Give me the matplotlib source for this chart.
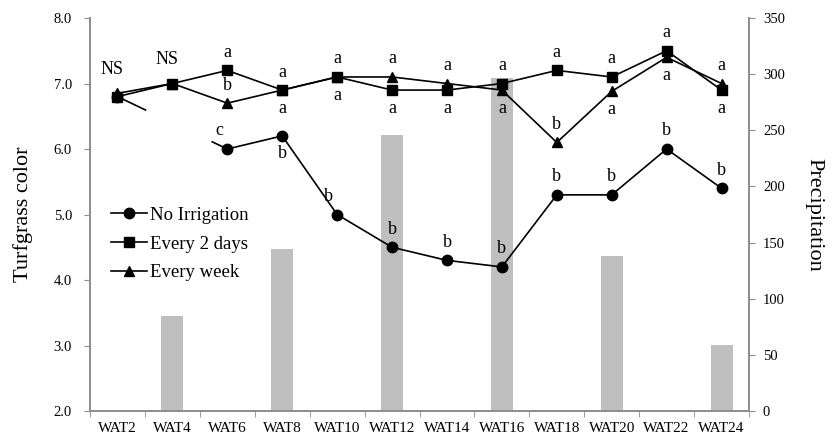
import numpy as np
import matplotlib
matplotlib.use("Agg")
import matplotlib.pyplot as plt
from matplotlib.ticker import FixedLocator

plt.rcParams["font.family"] = ["Liberation Serif", "DejaVu Serif"]
plt.rcParams["lines.scale_dashes"] = False

weeks = ["WAT2", "WAT4", "WAT6", "WAT8", "WAT10", "WAT12",
         "WAT14", "WAT16", "WAT18", "WAT20", "WAT22", "WAT24"]

precipitation = [0, 85, 0, 144, 0, 246, 0, 297, 0, 138, 0, 59]

no_irrigation = [6.8, np.nan, 6.0, 6.2, 5.0, 4.5, 4.3, 4.2, 5.3, 5.3, 6.0, 5.4]
every_2_days = [6.8, 7.0, 7.2, 6.9, 7.1, 6.9, 6.9, 7.0, 7.2, 7.1, 7.5, 6.9]
every_week = [6.85, 7.0, 6.7, 6.9, 7.1, 7.1, 7.0, 6.9, 6.1, 6.88, 7.4, 7.0]

# significance letters and whether they sit above (+1) or below (-1) the point
no_irr_letters = ["", "", "c", "b", "b", "b", "b", "b", "b", "b", "b", "b"]
no_irr_side = [0, 0, 1, -1, 1, 1, 1, 1, 1, 1, 1, 1]
two_day_letters = ["", "", "a", "a", "a", "a", "a", "a", "a", "a", "a", "a"]
two_day_side = [0, 0, 1, 1, 1, -1, -1, 1, 1, 1, 1, -1]
week_letters = ["", "", "b", "a", "a", "a", "a", "a", "b", "a", "a", "a"]
week_side = [0, 0, 1, -1, -1, 1, 1, -1, 1, -1, -1, 1]
ns_weeks = ["WAT2", "WAT4"]

GRAY = "#8c8c8c"
x = np.arange(len(weeks))

fig = plt.figure(figsize=(8.38, 4.36), dpi=100)
ax = fig.add_axes([0.1074, 0.0573, 0.7864, 0.9014])
ax2 = ax.twinx()

ax2.bar(x, precipitation, width=0.4, color="#bfbfbf", zorder=1)
ax2.set_ylim(0, 350)
ax2.set_yticks(range(0, 351, 50))

ax.set_zorder(ax2.get_zorder() + 1)
ax.patch.set_visible(False)

line_kw = dict(color="black", lw=1.2)
ax.plot(x, no_irrigation, marker="o", ms=7.5, label="No Irrigation", **line_kw)
ax.plot(x, every_2_days, marker="s", ms=7, label="Every 2 days", **line_kw)
ax.plot(x, every_week, marker="^", ms=7, label="Every week", **line_kw)

# no-irrigation series skips WAT4; only the ends of the bridge are visible
gap = [i for i, v in enumerate(no_irrigation) if np.isnan(v)][0]
ax.plot([x[gap - 1], x[gap + 1]], [no_irrigation[gap - 1], no_irrigation[gap + 1]],
        color="black", lw=1.2, linestyle=(0, (23, 52, 15, 60)))

ann_kw = dict(textcoords="offset points", ha="center", va="center", fontsize=13)
for values, letters, sides in [(no_irrigation, no_irr_letters, no_irr_side),
                               (every_2_days, two_day_letters, two_day_side),
                               (every_week, week_letters, week_side)]:
    for i, (v, t, s) in enumerate(zip(values, letters, sides)):
        if t:
            dx = -6 if (t == "c" or (values is no_irrigation and i == 4)) else 0
            ax.annotate(t, (x[i], v), xytext=(dx, 13 * s), **ann_kw)
for w in ns_weeks:
    i = weeks.index(w)
    ax.annotate("NS", (x[i], max(every_2_days[i], every_week[i])),
                xytext=(-4, 17), **ann_kw)

ax.set_xlim(-0.5, len(weeks) - 0.5)
ax.set_ylim(2.0, 8.0)
ax.set_yticks(np.arange(2.0, 8.01, 1.0))
ax.set_yticklabels([f"{v:.1f}" for v in np.arange(2.0, 8.01, 1.0)])
ax.set_xticks(x)
ax.set_xticklabels(weeks)
ax.xaxis.set_minor_locator(FixedLocator(np.arange(-0.5, len(weeks), 1.0)))
ax.tick_params(axis="x", which="major", length=0, pad=8, labelsize=11)
ax.tick_params(axis="x", which="minor", length=4, color=GRAY)
ax.tick_params(axis="y", length=4, color=GRAY, labelsize=10.5, pad=9)
ax2.tick_params(axis="y", length=4, color=GRAY, labelsize=10.5, pad=6)

for a in (ax, ax2):
    a.spines["top"].set_visible(False)
    for side in ("left", "right", "bottom"):
        a.spines[side].set_color(GRAY)
        a.spines[side].set_linewidth(1.2)

ax.set_ylabel("Turfgrass color", fontsize=16, labelpad=15)
ax2.set_ylabel("Precipitation", fontsize=16, rotation=270, labelpad=28)

ax.legend(loc="center left", bbox_to_anchor=(0.006, 0.425), frameon=False,
          fontsize=13.5, handlelength=1.95, handletextpad=0.12, labelspacing=0.62)

fig.savefig("out.png", dpi=100)
